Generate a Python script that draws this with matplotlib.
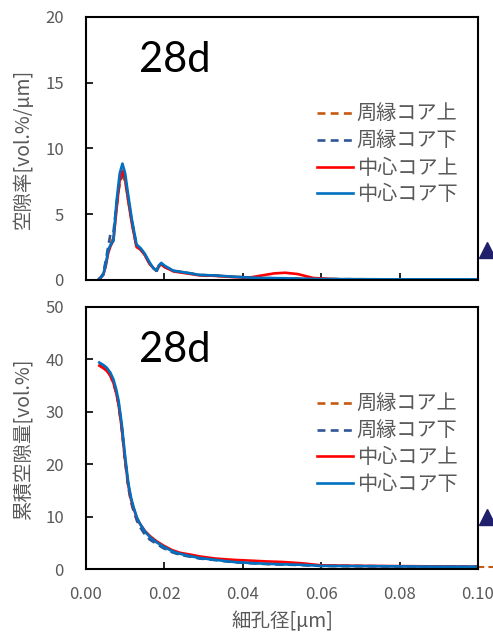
import matplotlib
matplotlib.use("Agg")
import matplotlib.pyplot as plt

plt.rcParams['font.family'] = ['Noto Sans CJK JP', 'DejaVu Sans']

GREY = '#595959'

labels = ['周縁コア上', '周縁コア下', '中心コア上', '中心コア下']
colors = ['#C55A11', '#2F5597', '#FF0000', '#0070C0']
styles = ['--', '--', '-', '-']

# ---- pore-size distribution (top) ----
x_dist = [0.0031, 0.0038, 0.0044, 0.0050, 0.0057, 0.0063, 0.0070, 0.0078, 0.0086, 0.0093,
          0.0100, 0.0108, 0.0117, 0.0129, 0.0140, 0.0150, 0.0163, 0.0172, 0.0180, 0.0186,
          0.0192, 0.0200, 0.0223, 0.0257, 0.0290, 0.0325, 0.0376, 0.0420, 0.0450, 0.0480,
          0.0508, 0.0540, 0.0580, 0.0650, 0.0750, 0.0850, 0.1000]
dist_peri_top = [0.0, 0.2, 0.4, 1.2, 2.2, 2.8, 3.2, 5.6, 7.4, 7.9,
                 7.5, 6.0, 4.4, 2.5, 2.3, 1.9, 1.2, 0.9, 0.7, 1.0,
                 1.2, 1.0, 0.7, 0.55, 0.38, 0.34, 0.24, 0.17, 0.14, 0.13,
                 0.12, 0.1, 0.08, 0.06, 0.05, 0.05, 0.05]
dist_peri_bot = [0.0, 0.2, 0.5, 1.4, 2.6, 3.6, 3.6, 5.8, 7.5, 8.0,
                 7.6, 6.1, 4.5, 2.6, 2.3, 1.9, 1.2, 0.9, 0.7, 1.1,
                 1.2, 1.0, 0.7, 0.55, 0.38, 0.34, 0.24, 0.17, 0.14, 0.13,
                 0.12, 0.1, 0.08, 0.06, 0.05, 0.05, 0.05]
dist_cent_top = [0.0, 0.2, 0.4, 1.0, 2.1, 2.6, 3.0, 5.4, 7.6, 8.3,
                 7.7, 6.0, 4.3, 2.5, 2.3, 1.9, 1.2, 0.9, 0.7, 1.1,
                 1.2, 1.0, 0.65, 0.5, 0.35, 0.32, 0.22, 0.2, 0.35, 0.5,
                 0.55, 0.45, 0.15, 0.04, 0.03, 0.03, 0.03]
dist_cent_bot = [0.0, 0.2, 0.4, 1.1, 2.3, 2.7, 3.0, 6.0, 8.1, 8.85,
                 8.1, 6.4, 4.6, 2.7, 2.4, 2.0, 1.3, 0.9, 0.7, 1.1,
                 1.3, 1.1, 0.7, 0.55, 0.38, 0.35, 0.25, 0.18, 0.15, 0.14,
                 0.13, 0.1, 0.08, 0.06, 0.05, 0.05, 0.05]

# ---- cumulative pore volume (bottom) ----
x_cum = [0.0034, 0.0045, 0.0053, 0.0062, 0.0070, 0.0077, 0.0083, 0.0091, 0.0100, 0.0108,
         0.0115, 0.0121, 0.0130, 0.0138, 0.0150, 0.0163, 0.0180, 0.0197, 0.0220, 0.0240,
         0.0270, 0.0290, 0.0330, 0.0376, 0.0420, 0.0460, 0.0500, 0.0550, 0.0600, 0.0700,
         0.0800, 0.0900, 0.1000]
cum_peri_top = [38.9, 38.4, 37.9, 37.0, 35.6, 33.8, 31.6, 27.3, 20.8, 15.9,
                13.0, 11.4, 9.4, 8.3, 7.0, 5.9, 5.0, 4.1, 3.3, 2.8,
                2.4, 2.1, 1.8, 1.4, 1.2, 1.0, 0.9, 0.8, 0.6, 0.55,
                0.5, 0.45, 0.4]
cum_peri_bot = [39.0, 38.5, 37.9, 37.0, 35.6, 33.8, 31.6, 27.0, 20.5, 15.6,
                12.8, 11.2, 9.2, 8.0, 6.6, 5.6, 4.8, 4.0, 3.2, 2.7,
                2.3, 2.0, 1.7, 1.3, 1.1, 0.95, 0.85, 0.75, 0.6, 0.55,
                0.5, 0.45, 0.4]
cum_cent_top = [38.8, 38.3, 37.8, 36.9, 35.5, 33.6, 31.4, 27.0, 20.6, 15.9,
                13.2, 11.7, 9.7, 8.6, 7.3, 6.3, 5.3, 4.5, 3.6, 3.1,
                2.7, 2.4, 2.0, 1.75, 1.6, 1.45, 1.35, 1.1, 0.7, 0.6,
                0.55, 0.5, 0.45]
cum_cent_bot = [39.4, 38.9, 38.4, 37.5, 36.2, 34.3, 32.2, 27.8, 21.4, 16.4,
                13.6, 11.9, 9.8, 8.6, 7.2, 6.1, 5.1, 4.3, 3.4, 2.9,
                2.4, 2.1, 1.75, 1.35, 1.15, 1.0, 0.9, 0.8, 0.6, 0.55,
                0.5, 0.45, 0.45]

# stray marker of another series, just beyond the x range
x_stray = [0.1022]
y_stray_dist = [2.3]
y_stray_cum = [9.9]
x_tail = [0.1000, 0.1040]
y_tail = [0.4, 0.4]

x_ticks = [0.00, 0.02, 0.04, 0.06, 0.08, 0.10]
x_ticklabels = ['0.00', '0.02', '0.04', '0.06', '0.08', '0.10']

fig = plt.figure(figsize=(4.93, 6.34), dpi=100)
ax1 = fig.add_axes([0.1744, 0.5584, 0.7952, 0.4148])
ax2 = fig.add_axes([0.1744, 0.1025, 0.7952, 0.4133])

dists = [dist_peri_top, dist_peri_bot, dist_cent_top, dist_cent_bot]
cums = [cum_peri_top, cum_peri_bot, cum_cent_top, cum_cent_bot]

for i in range(4):
    ax1.plot(x_dist, dists[i], color=colors[i], ls=styles[i], lw=1.9,
             label=labels[i], dashes=(3, 2) if styles[i] == '--' else (None, None))
    ax2.plot(x_cum, cums[i], color=colors[i], ls=styles[i], lw=1.9,
             label=labels[i], dashes=(3, 2) if styles[i] == '--' else (None, None))

ax2.plot(x_tail, y_tail, color=colors[0], lw=1.5, dashes=(3, 2), clip_on=False)
ax1.plot(x_stray, y_stray_dist, marker='^', ms=12, color='#1F1F6B', ls='none', clip_on=False)
ax2.plot(x_stray, y_stray_cum, marker='^', ms=12, color='#1F1F6B', ls='none', clip_on=False)

for ax, ymax, step in [(ax1, 20, 5), (ax2, 50, 10)]:
    ax.set_xlim(0, 0.1)
    ax.set_ylim(0, ymax)
    ax.set_yticks(range(0, ymax + 1, step))
    ax.set_xticks(x_ticks)
    ax.tick_params(direction='in', length=5, width=1.2, colors='black',
                   labelcolor=GREY, labelsize=12)
    ax.tick_params(axis='y', pad=16)
    ax.tick_params(axis='x', pad=12)
    for sp in ax.spines.values():
        sp.set_linewidth(1.5)
        sp.set_color('black')
    ax.text(0.135, 0.835, '28d', transform=ax.transAxes, fontsize=30,
            family=['Lato', 'DejaVu Sans'], va='center', ha='left', color='black')
    leg = ax.legend(loc='upper left', bbox_to_anchor=(0.59, 0.668), frameon=False,
                    fontsize=14.5, handlelength=1.75, handletextpad=0.2,
                    labelspacing=0.28, borderpad=0, borderaxespad=0)
    for t in leg.get_texts():
        t.set_color(GREY)

ax1.set_xticklabels([])
ax2.set_xticklabels(x_ticklabels)
ax1.set_ylabel('空隙率[vol.%/µm]', color=GREY, fontsize=14, labelpad=8)
ax2.set_ylabel('累積空隙量[vol.%]', color=GREY, fontsize=14, labelpad=8)
ax2.set_xlabel('細孔径[µm]', color=GREY, fontsize=14, labelpad=6)

fig.savefig('out.png', dpi=100)
